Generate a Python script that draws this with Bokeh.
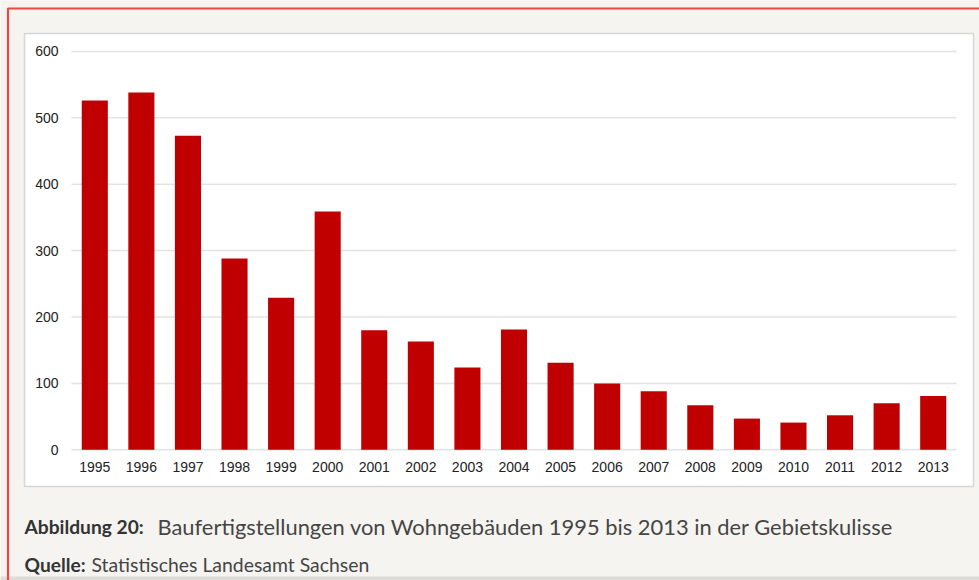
from bokeh.plotting import figure
from bokeh.models import Range1d, ColumnDataSource
from bokeh.core.properties import value
from bokeh.embed import file_html
from bokeh.resources import INLINE

years = ["1995", "1996", "1997", "1998", "1999", "2000", "2001", "2002", "2003", "2004",
         "2005", "2006", "2007", "2008", "2009", "2010", "2011", "2012", "2013"]
values = [526, 538, 473, 288, 229, 359, 180, 163, 124, 181,
          131, 100, 88, 67, 47, 41, 52, 70, 81]
y_ticks = [0, 100, 200, 300, 400, 500, 600]

caption_label = "Abbildung 20:"
caption_text = "Baufertigstellungen von Wohngebäuden 1995 bis 2013 in der Gebietskulisse"
source_label = "Quelle:"
source_text = "Statistisches Landesamt Sachsen"

BG = "#f5f4f0"
W, H = 979, 580

# the plot frame covers the whole canvas; default ranges are page pixels (y down)
p = figure(width=W, height=H, x_range=Range1d(0, W), y_range=Range1d(H, 0),
           output_backend="svg", toolbar_location=None,
           x_axis_location=None, y_axis_location=None,
           min_border=0, min_border_left=0, min_border_right=0,
           min_border_top=0, min_border_bottom=0)
p.grid.visible = False
p.outline_line_color = None
p.background_fill_color = BG
p.border_fill_color = BG

# chart scales: category index and value, mapped onto the canvas
n = len(years)
cat_left_px, cat_right_px = 71.0, 956.0
step = (cat_right_px - cat_left_px) / n
x0 = -(cat_left_px + step / 2) / step
x1 = (W - cat_left_px - step / 2) / step
zero_px, top_px = 449.3, 50.9
ppu = (zero_px - top_px) / max(y_ticks)
p.extra_x_ranges = {"cat": Range1d(x0, x1)}
p.extra_y_ranges = {"val": Range1d(-(H - zero_px) / ppu, zero_px / ppu)}

# page shading at the bottom edge
p.quad(left=[0], right=[W], top=[576], bottom=[H], fill_color="#dedcd8", line_color=None)

# white chart panel and red page frame
p.quad(left=[24], right=[973], top=[33], bottom=[486], fill_color="white",
       line_color="#d6d6d6", line_width=1.5)
p.quad(left=[7.5], right=[1200], top=[8], bottom=[1200], fill_alpha=0,
       line_color="#f04646", line_width=2.2)

idx = list(range(n))

# horizontal grid lines
p.segment(x0=[-0.5] * len(y_ticks), x1=[n - 0.5] * len(y_ticks), y0=y_ticks, y1=y_ticks,
          line_color="#e3e3e3", line_width=1.5, x_range_name="cat", y_range_name="val")

# bars
src = ColumnDataSource(dict(x=idx, top=values))
p.vbar(x="x", top="top", bottom=0, width=0.56, source=src, fill_color="#c00000",
       line_color=None, x_range_name="cat", y_range_name="val")

# y tick labels
p.text(x=[-0.5] * len(y_ticks), y=y_ticks, text=[str(t) for t in y_ticks],
       x_offset=-13, text_align="right", text_baseline="middle",
       text_font=value("Liberation Sans"), text_font_size="14px", text_color="#222222",
       x_range_name="cat", y_range_name="val")

# x tick labels
p.text(x=idx, y=[0] * n, text=years, y_offset=17, text_align="center",
       text_baseline="middle", text_font=value("Liberation Sans"),
       text_font_size="14px", text_color="#222222",
       x_range_name="cat", y_range_name="val")

# caption
def cap(x, y, t, bold, size, color):
    p.text(x=[x], y=[y], text=[t], text_font=value("Lato"),
           text_font_style="bold" if bold else "normal", text_font_size=size,
           text_color=color, text_baseline="alphabetic", text_align="left")

cap(24, 526, caption_label, True, "19.2px", "#333333")
cap(157, 526, caption_text, False, "21.9px", "#454545")
cap(24, 564, source_label, True, "19.2px", "#333333")
cap(91, 564, source_text, False, "19.4px", "#454545")

open("out.html", "w").write(file_html(p, INLINE))
